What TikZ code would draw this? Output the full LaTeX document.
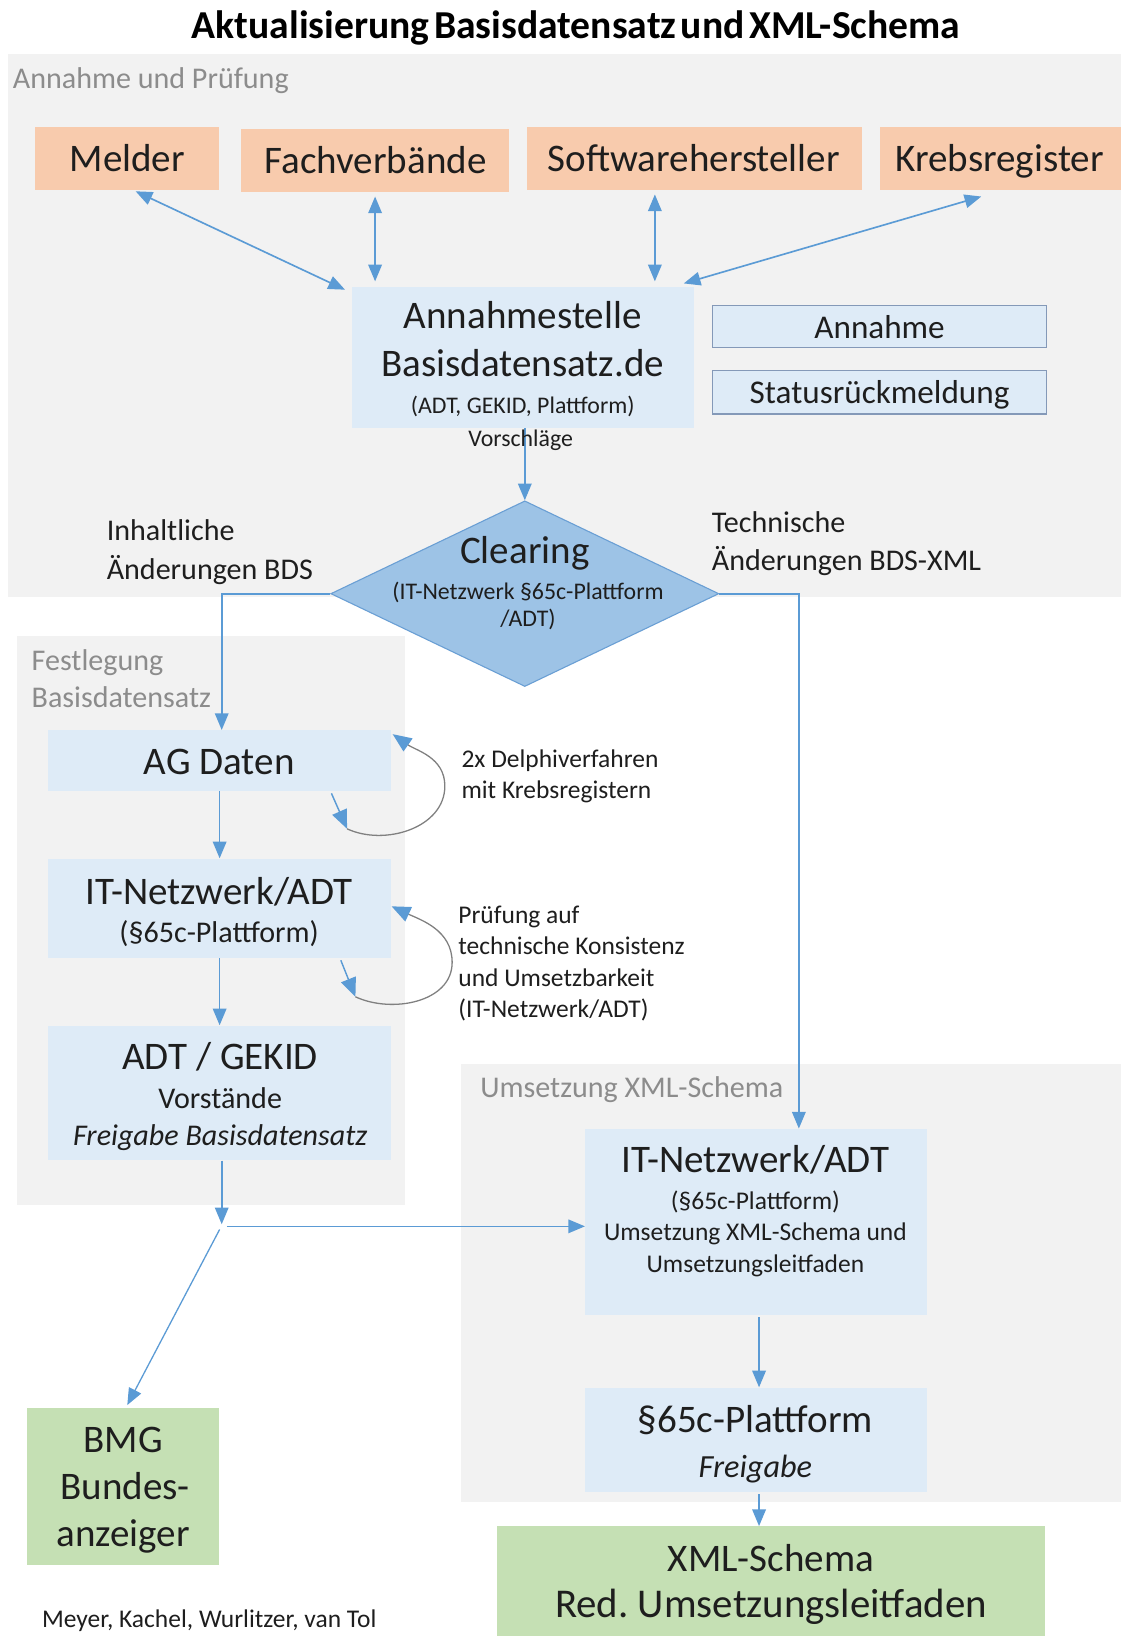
\documentclass[tikz,border=0pt]{standalone}
\usepackage{fontspec}
\setmainfont{Carlito}
\newfontfamily\titlefont{Carlito}[WordSpace=0.5]
\usetikzlibrary{arrows.meta,shapes.geometric,fit,calc}
\definecolor{regiongray}{HTML}{F2F2F2}
\definecolor{boxblue}{HTML}{DEEBF7}
\definecolor{orangec}{HTML}{F8CBAD}
\definecolor{greenc}{HTML}{C5E0B4}
\definecolor{arrowblue}{HTML}{5B9BD5}
\definecolor{diamfill}{HTML}{9DC3E6}
\definecolor{diamdraw}{HTML}{6A9FD4}
\definecolor{framec}{HTML}{8499B8}
\definecolor{labelgray}{HTML}{8C8C8C}
\definecolor{textc}{HTML}{1E1E1E}
\definecolor{loopgray}{HTML}{808080}
\tikzset{
  region/.style={fill=regiongray, draw=none, inner sep=0},
  bbox/.style={fill=boxblue, draw=none, inner sep=0},
  obox/.style={fill=orangec, draw=none, inner sep=0},
  gbox/.style={fill=greenc, draw=none, inner sep=0},
  fbox/.style={fill=boxblue, draw=framec, line width=0.8pt, inner sep=0},
  t/.style={inner sep=0, anchor=mid, text=textc},
  tl/.style={inner sep=0, anchor=mid west, text=textc},
  fA/.style={font=\fontsize{21.3pt}{25pt}\selectfont, yshift=-0.16cm},
  fB/.style={font=\fontsize{18.1pt}{22pt}\selectfont, yshift=-0.14cm},
  fC/.style={font=\fontsize{16.4pt}{20pt}\selectfont, yshift=-0.12cm},
  fD/.style={font=\fontsize{13.9pt}{17pt}\selectfont, yshift=-0.10cm},
  fE/.style={font=\fontsize{13pt}{16pt}\selectfont, yshift=-0.09cm},
  tip/.tip={Triangle[length=0.32cm,width=0.26cm]},
  bigtip/.tip={Triangle[length=0.36cm,width=0.30cm]},
  conn/.style={draw=arrowblue, line width=0.9pt, -{tip[color=arrowblue]}},
  biconn/.style={draw=arrowblue, line width=0.9pt, {tip[color=arrowblue]}-{tip[color=arrowblue]}},
  stubl/.style={draw=arrowblue, line width=0.8pt, -{bigtip[color=arrowblue]}},
  loopl/.style={draw=loopgray, line width=0.7pt, -{bigtip[color=arrowblue]}},
}
\begin{document}
\frenchspacing
\begin{tikzpicture}[x=0.02cm, y=-0.02cm]
\fill[white] (0,0) rectangle (1074,1568);
\useasboundingbox (0,0) rectangle (1074,1568);

% regions
\node[region, fit={(8,52) (1074,572)}] (r1) {};
\node[region, fit={(16,610) (388,1155)}] (r2) {};
\node[region, fit={(442,1020) (1074,1440)}] (r3) {};
\node[tl, fC, text=labelgray] (r1l) at (12,75) {Annahme und Prüfung};
\node[tl, fC, text=labelgray] (r2la) at (30,632) {Festlegung};
\node[tl, fC, text=labelgray] (r2lb) at (30,668) {Basisdatensatz};
\node[tl, fC, text=labelgray] (r3l) at (460,1042) {Umsetzung XML-Schema};

% title
\node[t, font=\titlefont\bfseries\fontsize{21.6pt}{26pt}\selectfont, text=black, yshift=-0.16cm] (title) at (552,25) {Aktualisierung Basisdatensatz und XML-Schema};

% orange boxes
\node[obox, fit={(34,122) (210,182)}] (melder) {};
\node[obox, fit={(231,124) (488,184)}] (fach) {};
\node[obox, fit={(505,122) (826,182)}] (soft) {};
\node[obox, fit={(843,122) (1074,182)}] (krebs) {};
\node[t, fA] (meldert) at (122,152) {Melder};
\node[t, fA] (facht) at (360,154) {Fachverbände};
\node[t, fA] (softt) at (665,152) {Softwarehersteller};
\node[t, fA] (krebst) at (958,152) {Krebsregister};

% Annahmestelle
\node[bbox, fit={(337,275) (665,410)}] (annst) {};
\node[t, fA] (annst1) at (501,303) {Annahmestelle};
\node[t, fA] (annst2) at (501,349) {Basisdatensatz.de};
\node[t, fE] (annst3) at (501,388) {(ADT, GEKID, Plattform)};

\node[fbox, fit={(683,293) (1003,333)}] (annahme) {};
\node[t, fB] (annahmet) at (843,313) {Annahme};
\node[fbox, fit={(683,355) (1003,397)}] (status) {};
\node[t, fB] (statust) at (843,376) {Statusrückmeldung};

% diamond
\node[diamond, fill=diamfill, draw=diamdraw, line width=0.6pt, minimum width=7.44cm, minimum height=3.56cm, inner sep=0] (clear) at (503,569) {};

% left column boxes
\node[bbox, fit={(46,700) (375,758)}] (agd) {};
\node[bbox, fit={(46,823) (375,918)}] (itl) {};
\node[bbox, fit={(46,983) (375,1112)}] (adt) {};

% right column boxes
\node[bbox, fit={(561,1082) (888,1260)}] (itr) {};
\node[bbox, fit={(561,1330) (888,1430)}] (plat) {};
\node[gbox, fit={(476,1463) (1002,1568)}] (xml) {};
\node[gbox, fit={(26,1349) (210,1500)}] (bmg) {};

% connectors
\draw[biconn] ($(melder.south)+(8,1)$) -- ($(annst.north west)+(-6,3)$);
\draw[biconn] ($(fach.south)+(0,4)$) -- ($(fach.south |- annst.north)+(0,-5)$);
\draw[biconn] ($(soft.south west)+(123,4)$) -- ($(soft.south west |- annst.north)+(123,-5)$);
\draw[biconn] ($(krebs.south)+(-18,6)$) -- ($(annst.north east)+(-10,-3)$);
\draw[conn] (annst.south -| clear.north) -- (clear.north);
\draw[conn] (clear.west) -| ($(agd.north)+(2,0)$);
\coordinate (itrin) at ($(itr.north west)+(205,0)$);
\draw[conn] (clear.east) -| (itrin);
\draw[conn] (agd.south) -- (itl.north);
\draw[conn] (itl.south) -- (adt.north);
\coordinate (junc) at ($(adt.south)+(2,61)$);
\draw[conn] (adt.south -| junc) -- (junc);
\draw[conn] ($(junc)+(5,2)$) -- ($(junc -| itr.west)+(0,2)$);
\draw[conn, line width=0.7pt] ($(junc)+(-2,5)$) -- ($(bmg.north)+(4,-2)$);
\draw[conn] ($(itr.south)+(3,2)$) -- ($(plat.north)+(3,0)$);
\draw[conn] ($(plat.south)+(3,2)$) -- ($(plat.south |- xml.north)+(3,0)$);

% self loops
\draw[stubl] ($(agd.south west)+(272,2)$) -- ($(agd.south west)+(287,36)$);
\draw[loopl] ($(agd.south west)+(287,36)$) to[out=-25,in=-90] ($(agd.south east)+(51,-5)$) to[out=90,in=-35] ($(agd.north east)+(1,4)$);
\draw[stubl] ($(itl.south west)+(281,2)$) -- ($(itl.south west)+(295,37)$);
\draw[loopl] ($(itl.south west)+(295,37)$) to[out=-25,in=-90] ($(itl.south east)+(58,4)$) to[out=90,in=-25] ($(itl.north east)+(0,46)$);

% texts on top
\node[t, fE] (vorschl) at (499,419) {Vorschläge};
\node[t, fA] (cleart1) at (503,528) {Clearing};
\node[t, fE] (cleart2) at (506,566) {(IT-Netzwerk §65c-Plattform};
\node[t, fE] (cleart3) at (506,592) {/ADT)};
\node[tl, fC] (inh1) at (102,508) {Inhaltliche};
\node[tl, fC] (inh2) at (102,545) {Änderungen BDS};
\node[tl, fC] (tech1) at (682,500) {Technische};
\node[tl, fC] (tech2) at (682,537) {Änderungen BDS-XML};

\node[t, fA] (agdt) at (210,730) {AG Daten};
\node[t, fA] (itlt1) at (210,855) {IT-Netzwerk/ADT};
\node[t, fC] (itlt2) at (210,893) {(§65c-Plattform)};
\node[t, fA] (adtt1) at (211,1013) {ADT / GEKID};
\node[t, fC] (adtt2) at (211,1052) {Vorstände};
\node[t, fC, font=\fontsize{16.4pt}{20pt}\selectfont\itshape] (adtt3) at (211,1088) {Freigabe Basisdatensatz};

\node[tl, fD] (del1) at (442,726) {2x Delphiverfahren};
\node[tl, fD] (del2) at (442,756) {mit Krebsregistern};
\node[tl, fD] (pr1) at (439,876) {Prüfung auf};
\node[tl, fD] (pr2) at (439,906) {technische Konsistenz};
\node[tl, fD] (pr3) at (439,936) {und Umsetzbarkeit};
\node[tl, fD] (pr4) at (439,966) {(IT-Netzwerk/ADT)};

\node[t, fA] (itrt1) at (724,1112) {IT-Netzwerk/ADT};
\node[t, fD] (itrt2) at (724,1150) {(§65c-Plattform)};
\node[t, fD] (itrt3) at (724,1180) {Umsetzung XML-Schema und};
\node[t, fD] (itrt4) at (724,1210) {Umsetzungsleitfaden};
\node[t, fA] (platt1) at (724,1361) {§65c-Plattform};
\node[t, fB, font=\fontsize{17.6pt}{21pt}\selectfont\itshape] (platt2) at (724,1405) {Freigabe};
\node[t, fA] (xmlt1) at (739,1494) {XML-Schema};
\node[t, fA, font=\fontsize{22.3pt}{26pt}\selectfont] (xmlt2) at (739,1538) {Red. Umsetzungsleitfaden};
\node[t, fA] (bmgt1) at (118,1380) {BMG};
\node[t, fA] (bmgt2) at (120,1425) {Bundes-};
\node[t, fA] (bmgt3) at (118,1470) {anzeiger};
\node[tl, fD] (authors) at (40,1551) {Meyer, Kachel, Wurlitzer, van Tol};
\end{tikzpicture}
\end{document}
